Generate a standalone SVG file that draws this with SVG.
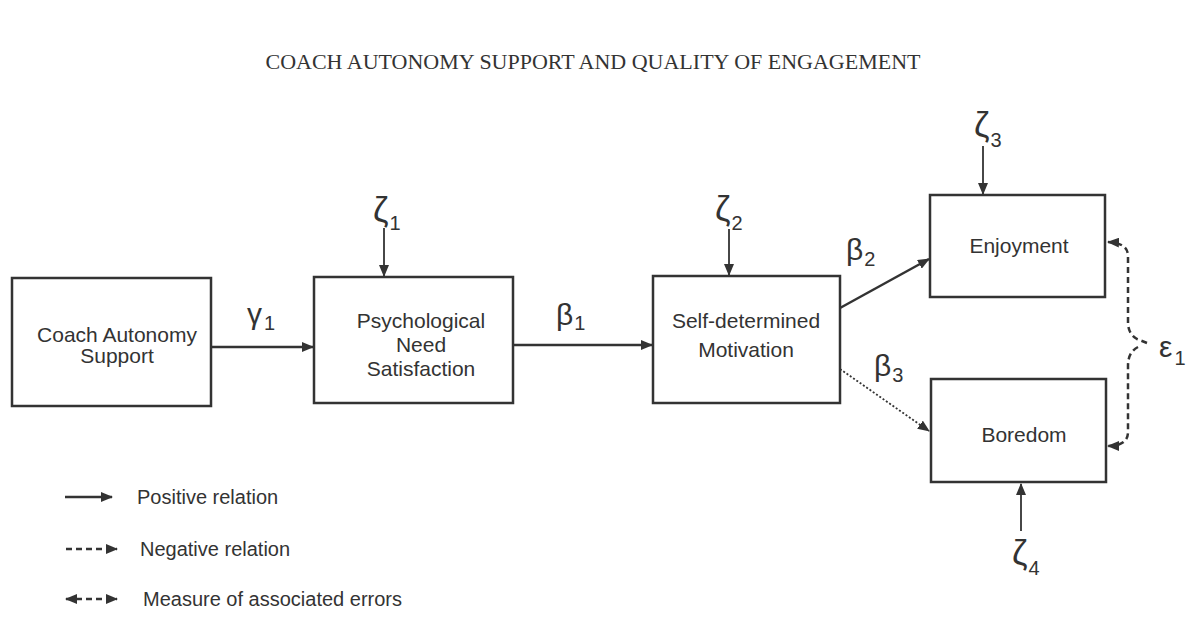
<svg xmlns="http://www.w3.org/2000/svg" width="1189" height="632" viewBox="0 0 1189 632">
<style>
.box{fill:#fff;stroke:#333;stroke-width:2.5}
.lbl{font-family:"Liberation Sans",Arial,sans-serif;font-size:21px;fill:#333;text-anchor:middle}
.leg{font-family:"Liberation Sans",Arial,sans-serif;font-size:20px;fill:#333}
.gr{font-family:"Liberation Sans",Arial,sans-serif;font-size:30px;fill:#333}
.z{font-size:35px}
.sub{font-size:20px}
.title{font-family:"Liberation Serif","Times New Roman",serif;font-size:22px;fill:#333;text-anchor:middle}
.ln{stroke:#333;stroke-width:2.5;fill:none}
.thin{stroke:#333;stroke-width:1.8;fill:none}
.dot{stroke:#333;stroke-width:1.8;fill:none;stroke-dasharray:2 2}
.dash{stroke:#333;stroke-width:2.5;fill:none;stroke-dasharray:6 4}
</style>
<defs>
<marker id="ah" viewBox="0 0 12 10" refX="11" refY="5" markerWidth="12" markerHeight="10" markerUnits="userSpaceOnUse" orient="auto">
<path d="M0,0 L12,5 L0,10 Z" fill="#333"/>
</marker>
<marker id="ahs" viewBox="0 0 12 10" refX="1" refY="5" markerWidth="12" markerHeight="10" markerUnits="userSpaceOnUse" orient="auto">
<path d="M12,0 L0,5 L12,10 Z" fill="#333"/>
</marker>
</defs>
<rect width="1189" height="632" fill="#fff"/>
<text class="title" x="593" y="69">COACH AUTONOMY SUPPORT AND QUALITY OF ENGAGEMENT</text>

<g id="connectors">
<line class="ln" x1="211" y1="347" x2="313" y2="347" marker-end="url(#ah)"/>
<line class="ln" x1="513" y1="345" x2="652" y2="345" marker-end="url(#ah)"/>
<line class="ln" x1="840" y1="308" x2="929" y2="259" marker-end="url(#ah)"/>
<line class="dot" x1="840" y1="369" x2="929" y2="431" marker-end="url(#ah)"/>
<line class="thin" x1="384" y1="228" x2="384" y2="276" marker-end="url(#ah)"/>
<line class="thin" x1="729" y1="229" x2="729" y2="275" marker-end="url(#ah)"/>
<line class="thin" x1="983" y1="146" x2="983" y2="194" marker-end="url(#ah)"/>
<line class="thin" x1="1021" y1="531" x2="1021" y2="484" marker-end="url(#ah)"/>
<path class="dash" d="M1147,343 L1137,339 Q1128,334 1128,322 L1128,256 Q1128,243 1108,242" marker-end="url(#ah)"/>
<path class="dash" d="M1138,347 Q1128,352 1128,366 L1128,432 Q1128,446 1108,446" marker-end="url(#ah)"/>
</g>

<g id="coach"><rect class="box" x="12" y="278" width="199" height="128"/>
<text class="lbl" x="117" y="342">Coach Autonomy</text><text class="lbl" x="117" y="363">Support</text></g>
<g id="need"><rect class="box" x="314" y="277" width="199" height="126"/>
<text class="lbl" x="421" y="328">Psychological</text><text class="lbl" x="421" y="352">Need</text><text class="lbl" x="421" y="376">Satisfaction</text></g>
<g id="motivation"><rect class="box" x="653" y="276" width="187" height="127"/>
<text class="lbl" x="746" y="328">Self-determined</text><text class="lbl" x="746" y="357">Motivation</text></g>
<g id="enjoyment"><rect class="box" x="930" y="195" width="175" height="102"/>
<text class="lbl" x="1019" y="253">Enjoyment</text></g>
<g id="boredom"><rect class="box" x="931" y="379" width="175" height="103"/>
<text class="lbl" x="1024" y="442">Boredom</text></g>

<g id="labels">
<text class="gr" x="247" y="324">γ<tspan class="sub" dx="2" dy="6">1</tspan></text>
<text class="gr" x="556" y="325">β<tspan class="sub" dx="1" dy="5">1</tspan></text>
<text class="gr" x="846" y="260">β<tspan class="sub" dx="1" dy="6">2</tspan></text>
<text class="gr" x="874" y="376">β<tspan class="sub" dx="1" dy="6">3</tspan></text>
<text class="gr z" x="373" y="222">ζ<tspan class="sub" dx="1" dy="8">1</tspan></text>
<text class="gr z" x="715" y="221">ζ<tspan class="sub" dx="1" dy="9">2</tspan></text>
<text class="gr z" x="974" y="137">ζ<tspan class="sub" dx="1" dy="10">3</tspan></text>
<text class="gr z" x="1012" y="565">ζ<tspan class="sub" dx="1" dy="10">4</tspan></text>
<text class="gr" x="1159" y="357">ε<tspan class="sub" dx="2" dy="8">1</tspan></text>
</g>

<g id="legend">
<line class="ln" x1="65" y1="497" x2="112" y2="497" marker-end="url(#ah)"/>
<text class="leg" x="137" y="504">Positive relation</text>
<line class="dash" x1="66" y1="549" x2="117" y2="549" stroke-dasharray="5 4" marker-end="url(#ah)"/>
<text class="leg" x="140" y="556">Negative relation</text>
<line class="dash" x1="66" y1="599" x2="117" y2="599" stroke-dasharray="5 4" marker-start="url(#ahs)" marker-end="url(#ah)"/>
<text class="leg" x="143" y="606">Measure of associated errors</text>
</g>
</svg>
